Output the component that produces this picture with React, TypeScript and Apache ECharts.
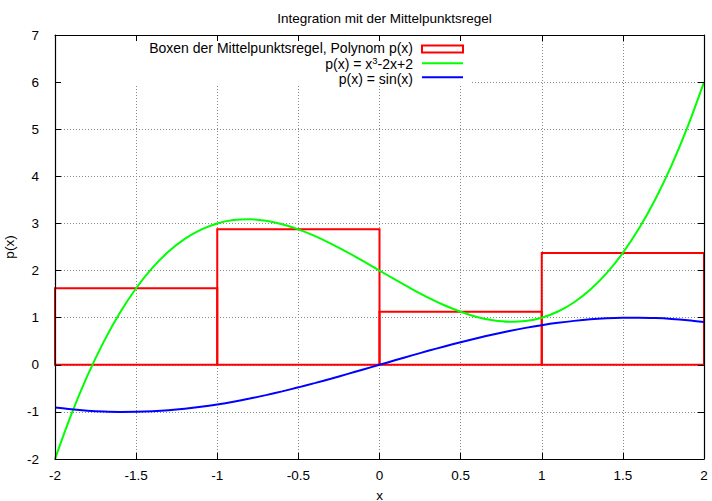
import React, { useEffect, useRef } from "react";
import * as echarts from "echarts";

const titleText = "Integration mit der Mittelpunktsregel";
const xAxisName = "x";
const yAxisName = "p(x)";

// sample positions
const xs = [
  -2.0, -1.9, -1.8, -1.7, -1.6, -1.5, -1.4, -1.3, -1.2, -1.1, -1.0,
  -0.9, -0.8, -0.7, -0.6, -0.5, -0.4, -0.3, -0.2, -0.1, 0.0,
  0.1, 0.2, 0.3, 0.4, 0.5, 0.6, 0.7, 0.8, 0.9, 1.0,
  1.1, 1.2, 1.3, 1.4, 1.5, 1.6, 1.7, 1.8, 1.9, 2.0,
];

// p(x) = x^3 - 2x + 2
const polyValues = [
  -2.0, -1.059, -0.232, 0.487, 1.104, 1.625, 2.056, 2.403, 2.672, 2.869, 3.0,
  3.071, 3.088, 3.057, 2.984, 2.875, 2.736, 2.573, 2.392, 2.199, 2.0,
  1.801, 1.608, 1.427, 1.264, 1.125, 1.016, 0.943, 0.912, 0.929, 1.0,
  1.131, 1.328, 1.597, 1.944, 2.375, 2.896, 3.513, 4.232, 5.059, 6.0,
];

// p(x) = sin(x)
const sinValues = [
  -0.909, -0.946, -0.974, -0.992, -1.0, -0.997, -0.985, -0.964, -0.932, -0.891, -0.841,
  -0.783, -0.717, -0.644, -0.565, -0.479, -0.389, -0.296, -0.199, -0.1, 0.0,
  0.1, 0.199, 0.296, 0.389, 0.479, 0.565, 0.644, 0.717, 0.783, 0.841,
  0.891, 0.932, 0.964, 0.985, 0.997, 1.0, 0.992, 0.974, 0.946, 0.909,
];

// midpoint boxes: centre, height, width
const boxCenters = [-1.5, -0.5, 0.5, 1.5];
const boxHeights = [1.625, 2.875, 1.125, 2.375];
const boxWidths = [1, 1, 1, 1];

const legendBoxLabel = "Boxen der Mittelpunktsregel, Polynom p(x)";
const legendPolyParts = ["p(x) = x", "3", "-2x+2"];
const legendSinLabel = "p(x) = sin(x)";

const FONT = "'Liberation Sans', Arial, Helvetica, sans-serif";

function measure(text: string, font: string): number {
  const c = document.createElement("canvas");
  const ctx = c.getContext("2d");
  if (!ctx) return text.length * 7;
  ctx.font = font;
  return ctx.measureText(text).width;
}

export default function App() {
  const ref = useRef<HTMLDivElement>(null);

  useEffect(() => {
    if (!ref.current) return;
    const chart = echarts.init(ref.current, null, { renderer: "svg" });

    const gridL = 55;
    const gridT = 35;
    const gridR = 8;
    const gridB = 42;
    const W = 712;

    const tickStyle = { show: true, inside: true, length: 6, lineStyle: { color: "#000", width: 1 } };
    const axisLine = { show: true, onZero: false, lineStyle: { color: "#000", width: 1.2 } };
    const labelStyle = { color: "#000", fontSize: 13.5, fontFamily: FONT };

    const xBase = { type: "value", min: -2, max: 2, interval: 0.5 } as any;
    const yBase = { type: "value", min: -2, max: 7, interval: 1 } as any;

    const gridDash = { show: true, lineStyle: { color: "#888", type: [1, 2], width: 1 } };

    const polyData = xs.map((x, i) => [x, polyValues[i]]);
    const sinData = xs.map((x, i) => [x, sinValues[i]]);
    const boxData = boxCenters.map((c, i) => [c, boxHeights[i], boxWidths[i]]);

    const legX = 413;
    const sampleX0 = 422;
    const sampleX1 = 463;
    const rows = [48, 64, 78.5];
    const legFont = 14;
    const supFont = 9.5;
    const mainFontStr = `${legFont}px ${FONT}`;
    const supFontStr = `${supFont}px ${FONT}`;

    const wTail = measure(legendPolyParts[2], mainFontStr);
    const wSup = measure(legendPolyParts[1], supFontStr);
    const xSupRight = legX - wTail;
    const xHeadRight = xSupRight - wSup;

    chart.setOption({
      animation: false,
      backgroundColor: "#fff",
      title: {
        text: titleText,
        left: gridL + (W - gridL - gridR) / 2,
        textAlign: "center",
        top: 6,
        textStyle: { color: "#000", fontSize: 13.5, fontWeight: "normal", fontFamily: FONT },
      },
      grid: {
        left: gridL,
        right: gridR,
        top: gridT,
        bottom: gridB,
        containLabel: false,
        outerBoundsMode: "none",
      },
      xAxis: [
        {
          ...xBase,
          position: "bottom",
          z: 5,
          axisLine,
          axisTick: tickStyle,
          axisLabel: { ...labelStyle, margin: 9 },
          splitLine: { show: false },
          name: xAxisName,
          nameLocation: "middle",
          nameGap: 29,
          nameTextStyle: { ...labelStyle },
        },
        {
          ...xBase,
          position: "top",
          z: 5,
          axisLine,
          axisTick: tickStyle,
          axisLabel: { show: false },
          splitLine: { show: false },
        },
        {
          ...xBase,
          position: "bottom",
          z: 0,
          axisLine: { show: false },
          axisTick: { show: false },
          axisLabel: { show: false },
          splitLine: gridDash,
        },
      ],
      yAxis: [
        {
          ...yBase,
          position: "left",
          z: 5,
          axisLine,
          axisTick: tickStyle,
          axisLabel: { ...labelStyle, margin: 16 },
          splitLine: { show: false },
          name: yAxisName,
          nameLocation: "middle",
          nameGap: 38,
          nameRotate: 90,
          nameTextStyle: { ...labelStyle },
        },
        {
          ...yBase,
          position: "right",
          z: 5,
          axisLine,
          axisTick: tickStyle,
          axisLabel: { show: false },
          splitLine: { show: false },
        },
        {
          ...yBase,
          position: "left",
          z: 0,
          axisLine: { show: false },
          axisTick: { show: false },
          axisLabel: { show: false },
          splitLine: gridDash,
        },
      ],
      graphic: [
        {
          type: "rect",
          z: 1,
          silent: true,
          shape: { x: gridL + 1, y: gridT + 1, width: 471 - gridL - 1, height: 86 - gridT - 1 },
          style: { fill: "#fff" },
        },
        {
          type: "text",
          z: 6,
          x: legX,
          y: rows[0],
          style: { text: legendBoxLabel, align: "right", verticalAlign: "middle", fill: "#000", font: mainFontStr },
        },
        {
          type: "text",
          z: 6,
          x: xHeadRight,
          y: rows[1],
          style: { text: legendPolyParts[0], align: "right", verticalAlign: "middle", fill: "#000", font: mainFontStr },
        },
        {
          type: "text",
          z: 6,
          x: xSupRight,
          y: rows[1] - 4,
          style: { text: legendPolyParts[1], align: "right", verticalAlign: "middle", fill: "#000", font: supFontStr },
        },
        {
          type: "text",
          z: 6,
          x: legX,
          y: rows[1],
          style: { text: legendPolyParts[2], align: "right", verticalAlign: "middle", fill: "#000", font: mainFontStr },
        },
        {
          type: "text",
          z: 6,
          x: legX,
          y: rows[2],
          style: { text: legendSinLabel, align: "right", verticalAlign: "middle", fill: "#000", font: mainFontStr },
        },
        {
          type: "rect",
          z: 6,
          shape: { x: sampleX0, y: rows[0] - 2.5, width: sampleX1 - sampleX0, height: 7 },
          style: { fill: "none", stroke: "#ff0000", lineWidth: 2 },
        },
        {
          type: "line",
          z: 6,
          shape: { x1: sampleX0, y1: rows[1] - 0.7, x2: sampleX1, y2: rows[1] - 0.7 },
          style: { stroke: "#00ff00", lineWidth: 2 },
        },
        {
          type: "line",
          z: 6,
          shape: { x1: sampleX0, y1: rows[2] - 1.2, x2: sampleX1, y2: rows[2] - 1.2 },
          style: { stroke: "#0000ff", lineWidth: 2 },
        },
      ],
      series: [
        {
          type: "custom",
          name: legendBoxLabel,
          xAxisIndex: 0,
          yAxisIndex: 0,
          z: 2,
          clip: false,
          data: boxData,
          renderItem: (params: any, api: any) => {
            const c = api.value(0);
            const h = api.value(1);
            const w = api.value(2);
            const p0 = api.coord([c - w / 2, 0]);
            const p1 = api.coord([c + w / 2, h]);
            return {
              type: "rect",
              shape: { x: p0[0], y: p1[1], width: p1[0] - p0[0], height: p0[1] - p1[1] },
              style: { fill: "none", stroke: "#ff0000", lineWidth: 2 },
            };
          },
        },
        {
          type: "line",
          name: "poly",
          xAxisIndex: 0,
          yAxisIndex: 0,
          z: 3,
          data: polyData,
          smooth: 0.3,
          showSymbol: false,
          symbol: "none",
          lineStyle: { color: "#00ff00", width: 2 },
        },
        {
          type: "line",
          name: "sin",
          xAxisIndex: 0,
          yAxisIndex: 0,
          z: 4,
          data: sinData,
          smooth: 0.3,
          showSymbol: false,
          symbol: "none",
          lineStyle: { color: "#0000ff", width: 2 },
        },
      ],
    } as any);

    return () => chart.dispose();
  }, []);

  return <div ref={ref} style={{ width: 712, height: 501, position: "absolute", left: 0, top: 0 }} />;
}
